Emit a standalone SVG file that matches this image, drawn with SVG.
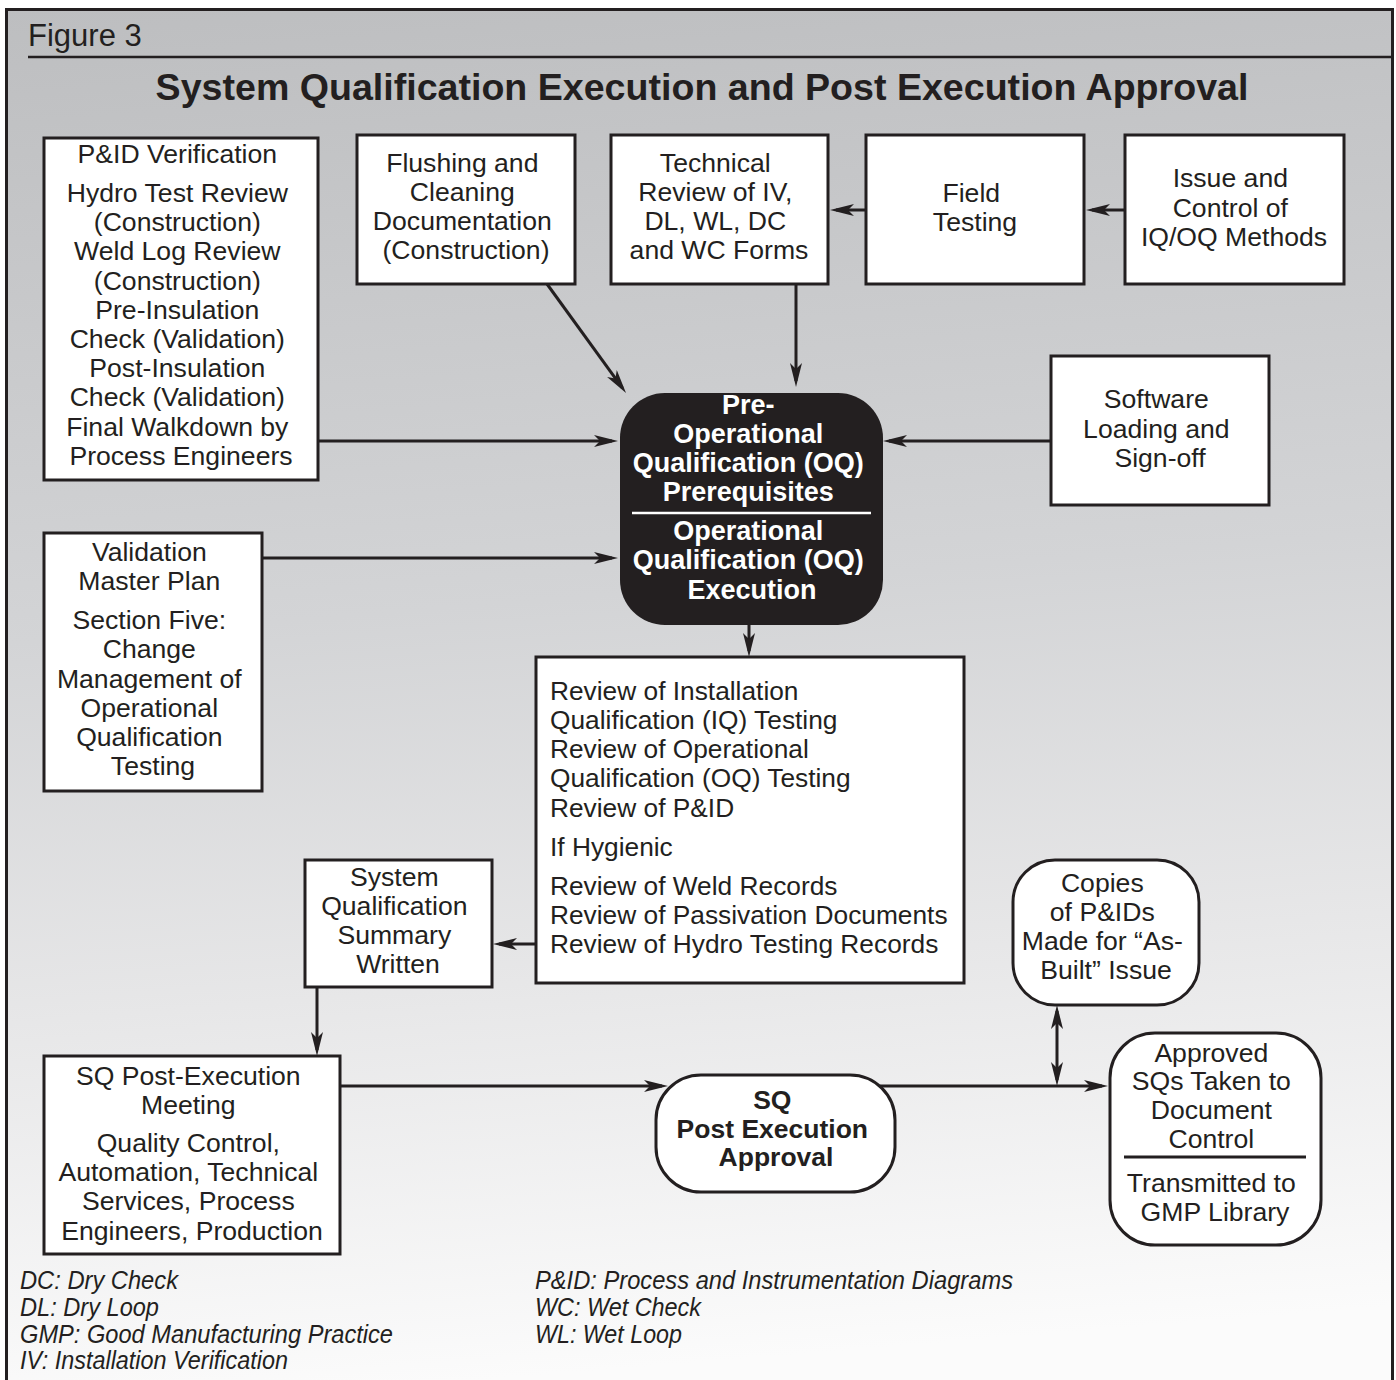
<svg xmlns="http://www.w3.org/2000/svg" width="1396" height="1380" viewBox="0 0 1396 1380">
  <defs>
    <linearGradient id="bg" x1="0" y1="0" x2="0.08" y2="1">
      <stop offset="0" stop-color="#bdbec0"/>
      <stop offset="0.45" stop-color="#d3d4d6"/>
      <stop offset="0.72" stop-color="#e7e7e8"/>
      <stop offset="1" stop-color="#fbfbfb"/>
    </linearGradient>
    <marker id="ah" markerWidth="24" markerHeight="12" refX="18" refY="6" orient="auto-start-reverse" markerUnits="userSpaceOnUse">
      <path d="M0,0 L24,6 L0,12 L6,6 z" fill="#231f20"/>
    </marker>
    <style>
      .t { font-family: "Liberation Sans", Arial, Helvetica, sans-serif; font-size: 26.6px; fill: #231f20; text-anchor: middle; }
      .tl { font-family: "Liberation Sans", Arial, Helvetica, sans-serif; font-size: 26.3px; fill: #231f20; }
      .tb { font-family: "Liberation Sans", Arial, Helvetica, sans-serif; font-size: 26.5px; font-weight: bold; fill: #231f20; text-anchor: middle; }
      .tw { font-family: "Liberation Sans", Arial, Helvetica, sans-serif; font-size: 27px; font-weight: bold; fill: #ffffff; text-anchor: middle; }
      .lg { font-family: "Liberation Sans", Arial, Helvetica, sans-serif; font-size: 25px; font-style: italic; fill: #231f20; }
      .box { fill: #ffffff; stroke: #231f20; stroke-width: 3; }
      .ln { fill: none; stroke: #231f20; stroke-width: 3; }
    </style>
  </defs>

  <!-- page and frame -->
  <rect x="0" y="0" width="1396" height="1380" fill="#ffffff"/>
  <rect x="6.5" y="9.5" width="1386" height="1400" fill="url(#bg)" stroke="#231f20" stroke-width="3"/>
  <text x="28" y="46" font-family="'Liberation Sans', Arial, sans-serif" font-size="31" fill="#231f20">Figure 3</text>
  <line x1="28" y1="57" x2="1393" y2="57" stroke="#231f20" stroke-width="2.5"/>
  <text x="702" y="100" font-family="'Liberation Sans', Arial, sans-serif" font-size="37.6" font-weight="bold" fill="#231f20" text-anchor="middle">System Qualification Execution and Post Execution Approval</text>

  <!-- connectors -->
  <g id="connectors" class="ln" marker-end="url(#ah)">
    <path d="M1125,210 H1092"/>
    <path d="M866,210 H836"/>
    <path d="M796,284 V381"/>
    <path d="M547,284 L622.5,388.1"/>
    <path d="M318,441 H612"/>
    <path d="M1051,441 H889"/>
    <path d="M262,558 H612"/>
    <path d="M749,625 V651"/>
    <path d="M536,944 H499"/>
    <path d="M317,987 V1050"/>
    <path d="M340,1086 H662"/>
    <path d="M880,1086 H1102"/>
    <path d="M1057,1011 V1080" marker-start="url(#ah)"/>
  </g>

  <!-- P&ID verification checklist -->
  <g id="pid-verification">
    <rect class="box" x="44" y="138" width="274" height="342"/>
    <text class="t">
      <tspan x="181" y="163">P&amp;ID Verification</tspan>
      <tspan x="181" y="202">Hydro Test Review</tspan>
      <tspan x="181" y="231">(Construction)</tspan>
      <tspan x="181" y="260">Weld Log Review</tspan>
      <tspan x="181" y="290">(Construction)</tspan>
      <tspan x="181" y="319">Pre-Insulation</tspan>
      <tspan x="181" y="348">Check (Validation)</tspan>
      <tspan x="181" y="377">Post-Insulation</tspan>
      <tspan x="181" y="406">Check (Validation)</tspan>
      <tspan x="181" y="436">Final Walkdown by</tspan>
      <tspan x="181" y="465">Process Engineers</tspan>
    </text>
  </g>

  <g id="flushing">
    <rect class="box" x="357" y="135" width="218" height="149"/>
    <text class="t">
      <tspan x="466" y="172">Flushing and</tspan>
      <tspan x="466" y="201">Cleaning</tspan>
      <tspan x="466" y="230">Documentation</tspan>
      <tspan x="466" y="259">(Construction)</tspan>
    </text>
  </g>

  <g id="technical-review">
    <rect class="box" x="611" y="135" width="217" height="149"/>
    <text class="t">
      <tspan x="719" y="172">Technical</tspan>
      <tspan x="719" y="201">Review of IV,</tspan>
      <tspan x="719" y="230">DL, WL, DC</tspan>
      <tspan x="719" y="259">and WC Forms</tspan>
    </text>
  </g>

  <g id="field-testing">
    <rect class="box" x="866" y="135" width="218" height="149"/>
    <text class="t">
      <tspan x="975" y="202">Field</tspan>
      <tspan x="975" y="231">Testing</tspan>
    </text>
  </g>

  <g id="issue-control">
    <rect class="box" x="1125" y="135" width="219" height="149"/>
    <text class="t">
      <tspan x="1234" y="187">Issue and</tspan>
      <tspan x="1234" y="217">Control of</tspan>
      <tspan x="1234" y="246">IQ/OQ Methods</tspan>
    </text>
  </g>

  <g id="software">
    <rect class="box" x="1051" y="356" width="218" height="149"/>
    <text class="t">
      <tspan x="1160" y="408">Software</tspan>
      <tspan x="1160" y="438">Loading and</tspan>
      <tspan x="1160" y="467">Sign-off</tspan>
    </text>
  </g>

  <!-- central OQ node -->
  <g id="oq">
    <rect x="620" y="393" width="263" height="232" rx="45" ry="45" fill="#231f20"/>
    <line x1="632" y1="513" x2="871" y2="513" stroke="#ffffff" stroke-width="2.5"/>
    <text class="tw">
      <tspan x="752" y="414">Pre-</tspan>
      <tspan x="752" y="443">Operational</tspan>
      <tspan x="752" y="472">Qualification (OQ)</tspan>
      <tspan x="752" y="501">Prerequisites</tspan>
      <tspan x="752" y="540">Operational</tspan>
      <tspan x="752" y="569">Qualification (OQ)</tspan>
      <tspan x="752" y="599">Execution</tspan>
    </text>
  </g>

  <g id="validation-master-plan">
    <rect class="box" x="44" y="533" width="218" height="258"/>
    <text class="t">
      <tspan x="153" y="561">Validation</tspan>
      <tspan x="153" y="590">Master Plan</tspan>
      <tspan x="153" y="629">Section Five:</tspan>
      <tspan x="153" y="658">Change</tspan>
      <tspan x="153" y="688">Management of</tspan>
      <tspan x="153" y="717">Operational</tspan>
      <tspan x="153" y="746">Qualification</tspan>
      <tspan x="153" y="775">Testing</tspan>
    </text>
  </g>

  <g id="reviews">
    <rect class="box" x="536" y="657" width="428" height="326"/>
    <text class="tl">
      <tspan x="550" y="700">Review of Installation</tspan>
      <tspan x="550" y="729">Qualification (IQ) Testing</tspan>
      <tspan x="550" y="758">Review of Operational</tspan>
      <tspan x="550" y="787">Qualification (OQ) Testing</tspan>
      <tspan x="550" y="817">Review of P&amp;ID</tspan>
      <tspan x="550" y="856">If Hygienic</tspan>
      <tspan x="550" y="895">Review of Weld Records</tspan>
      <tspan x="550" y="924">Review of Passivation Documents</tspan>
      <tspan x="550" y="953">Review of Hydro Testing Records</tspan>
    </text>
  </g>

  <g id="summary">
    <rect class="box" x="305" y="860" width="187" height="127"/>
    <text class="t">
      <tspan x="398" y="886">System</tspan>
      <tspan x="398" y="915">Qualification</tspan>
      <tspan x="398" y="944">Summary</tspan>
      <tspan x="398" y="973">Written</tspan>
    </text>
  </g>

  <g id="copies">
    <rect class="box" x="1013" y="860" width="186" height="145" rx="42" ry="42"/>
    <text class="t">
      <tspan x="1106" y="892">Copies</tspan>
      <tspan x="1106" y="921">of P&amp;IDs</tspan>
      <tspan x="1106" y="950">Made for “As-</tspan>
      <tspan x="1106" y="979">Built” Issue</tspan>
    </text>
  </g>

  <g id="post-execution-meeting">
    <rect class="box" x="44" y="1056" width="296" height="198"/>
    <text class="t">
      <tspan x="192" y="1085">SQ Post-Execution</tspan>
      <tspan x="192" y="1114">Meeting</tspan>
      <tspan x="192" y="1152">Quality Control,</tspan>
      <tspan x="192" y="1181">Automation, Technical</tspan>
      <tspan x="192" y="1210">Services, Process</tspan>
      <tspan x="192" y="1240">Engineers, Production</tspan>
    </text>
  </g>

  <g id="post-execution-approval">
    <rect class="box" x="656" y="1075" width="239" height="117" rx="45" ry="45"/>
    <text class="tb">
      <tspan x="776" y="1109">SQ</tspan>
      <tspan x="776" y="1138">Post Execution</tspan>
      <tspan x="776" y="1166">Approval</tspan>
    </text>
  </g>

  <g id="document-control">
    <rect class="box" x="1110" y="1033" width="211" height="212" rx="45" ry="45"/>
    <line x1="1124" y1="1157" x2="1306" y2="1157" stroke="#231f20" stroke-width="3"/>
    <text class="t">
      <tspan x="1215" y="1062">Approved</tspan>
      <tspan x="1215" y="1090">SQs Taken to</tspan>
      <tspan x="1215" y="1119">Document</tspan>
      <tspan x="1215" y="1148">Control</tspan>
      <tspan x="1215" y="1192">Transmitted to</tspan>
      <tspan x="1215" y="1221">GMP Library</tspan>
    </text>
  </g>

  <!-- abbreviations -->
  <g id="legend">
    <text class="lg" x="20" y="1289" textLength="158" lengthAdjust="spacingAndGlyphs">DC: Dry Check</text>
    <text class="lg" x="20" y="1316" textLength="139" lengthAdjust="spacingAndGlyphs">DL: Dry Loop</text>
    <text class="lg" x="20" y="1343" textLength="373" lengthAdjust="spacingAndGlyphs">GMP: Good Manufacturing Practice</text>
    <text class="lg" x="20" y="1369" textLength="268" lengthAdjust="spacingAndGlyphs">IV: Installation Verification</text>
    <text class="lg" x="535" y="1289" textLength="478" lengthAdjust="spacingAndGlyphs">P&amp;ID: Process and Instrumentation Diagrams</text>
    <text class="lg" x="535" y="1316" textLength="166" lengthAdjust="spacingAndGlyphs">WC: Wet Check</text>
    <text class="lg" x="535" y="1343" textLength="147" lengthAdjust="spacingAndGlyphs">WL: Wet Loop</text>
  </g>
</svg>
